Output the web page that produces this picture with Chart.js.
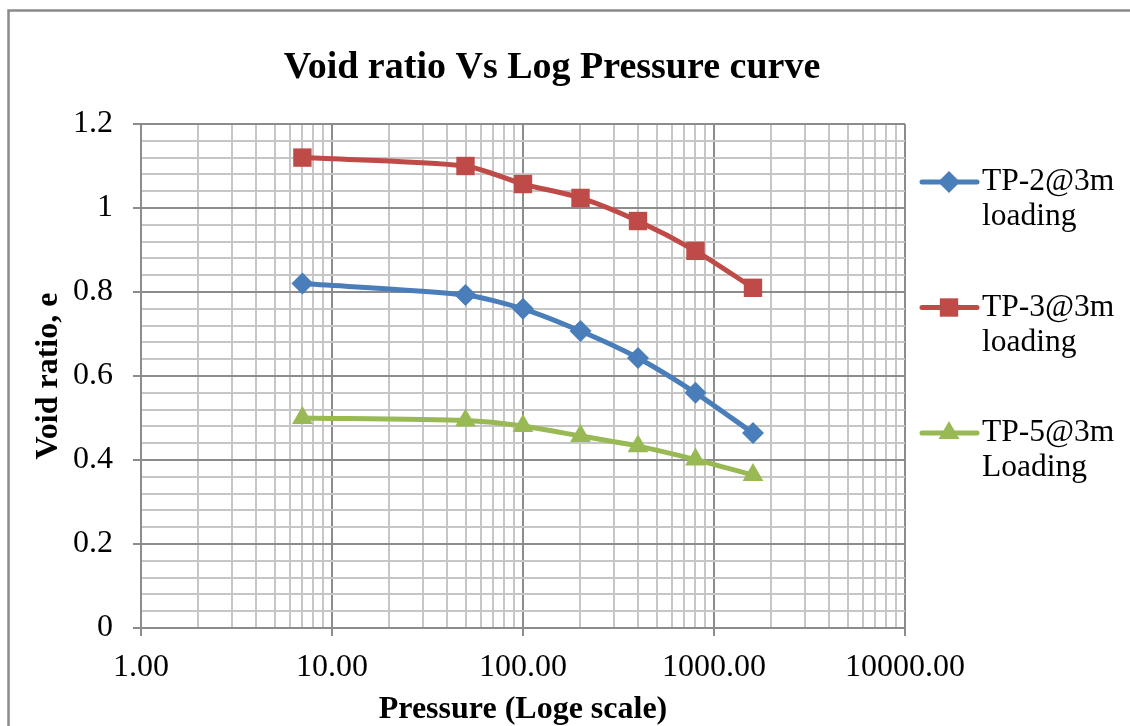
<!DOCTYPE html>
<html>
<head>
<meta charset="utf-8">
<title>Void ratio Vs Log Pressure curve</title>
<script src="https://cdn.jsdelivr.net/npm/chart.js@4.4.0/dist/chart.umd.min.js"></script>
<style>
  html, body { margin: 0; padding: 0; background: #fff; }
  #wrap { width: 1130px; height: 726px; position: relative; }
</style>
</head>
<body>
<div id="wrap"><canvas id="voidChart"></canvas></div>
<script>
// consolidation test results, void ratio against applied pressure
const pressure = [7, 50, 100, 200, 400, 800, 1600];
const tp2 = [0.82, 0.793, 0.76, 0.707, 0.643, 0.56, 0.464];
const tp3 = [1.12, 1.10, 1.057, 1.024, 0.969, 0.898, 0.81];
const tp5 = [0.50, 0.494, 0.481, 0.457, 0.433, 0.401, 0.364];

const seriesNames = [["TP-2@3m", "loading"], ["TP-3@3m", "loading"], ["TP-5@3m", "Loading"]];
const xDecades = [1, 10, 100, 1000, 10000];
const yMajor = [0, 0.2, 0.4, 0.6, 0.8, 1, 1.2];

const SERIF = "'Liberation Serif', 'Times New Roman', serif";
const MINOR = "#c6c6c6";
const MAJOR = "#8c8c8c";

function isDecade(v) {
    return xDecades.some(d => Math.abs(v - d) < 1e-9 * d);
}
function isYMajor(v) {
    return yMajor.some(m => Math.abs(v - m) < 1e-6);
}

function toPoints(ys) {
    return pressure.map((p, i) => ({ x: p, y: ys[i] }));
}

// frame, title and the two-line legend are drawn by hand
const frameAndLegend = {
    id: "frameAndLegend",
    beforeDraw(chart) {
        const ctx = chart.ctx;
        ctx.save();
        ctx.fillStyle = "#fff";
        ctx.fillRect(0, 0, chart.width, chart.height);
        ctx.strokeStyle = "#8a8a8a";
        ctx.lineWidth = 2.5;
        ctx.strokeRect(8.5, 10.5, chart.width + 20, chart.height + 20);
        ctx.restore();
    },
    afterDraw(chart) {
        const ctx = chart.ctx;
        const area = chart.chartArea;
        ctx.save();
        ctx.fillStyle = "#000";
        ctx.font = "bold 38px " + SERIF;
        ctx.textAlign = "center";
        ctx.textBaseline = "middle";
        ctx.fillText("Void ratio Vs Log Pressure curve", 552, 68);

        const x0 = area.right + 17;
        ctx.font = "31.5px " + SERIF;
        ctx.textAlign = "left";
        chart.data.datasets.forEach((ds, i) => {
            const y = area.top + 58 + i * 125.5;
            ctx.strokeStyle = ds.borderColor;
            ctx.lineWidth = 5;
            ctx.lineCap = "round";
            ctx.beginPath();
            ctx.moveTo(x0, y);
            ctx.lineTo(x0 + 55, y);
            ctx.stroke();
            ctx.fillStyle = ds.pointBackgroundColor;
            Chart.helpers.drawPoint(ctx, {
                pointStyle: ds.pointStyle,
                radius: ds.pointRadius,
                borderWidth: 0
            }, x0 + 27, y);
            ctx.fillStyle = "#000";
            seriesNames[i].forEach((line, j) => {
                ctx.fillText(line, x0 + 60, y + j * 35);
            });
        });
        ctx.restore();
    }
};

const canvas = document.querySelector("#voidChart");

new Chart(canvas, {
    type: "line",
    data: {
        datasets: [
            {
                label: seriesNames[0].join(" "),
                data: toPoints(tp2),
                borderColor: "#4a7ebb",
                backgroundColor: "#4a7ebb",
                pointBackgroundColor: "#4a7ebb",
                pointStyle: "rectRot",
                pointRadius: 11
            },
            {
                label: seriesNames[1].join(" "),
                data: toPoints(tp3),
                borderColor: "#be4b48",
                backgroundColor: "#be4b48",
                pointBackgroundColor: "#be4b48",
                pointStyle: "rect",
                pointRadius: 13
            },
            {
                label: seriesNames[2].join(" "),
                data: toPoints(tp5),
                borderColor: "#98b954",
                backgroundColor: "#98b954",
                pointBackgroundColor: "#98b954",
                pointStyle: "triangle",
                pointRadius: 12
            }
        ]
    },
    options: {
        responsive: true,
        maintainAspectRatio: false,
        animation: false,
        devicePixelRatio: 1,
        elements: {
            line: { borderWidth: 5, tension: 0.25, capBezierPoints: true },
            point: { borderWidth: 0, hoverRadius: 12 }
        },
        layout: { padding: { left: 10, right: 225, top: 124, bottom: 0 } },
        plugins: {
            legend: { display: false },
            title: { display: false },
            tooltip: { enabled: false }
        },
        scales: {
            x: {
                type: "logarithmic",
                min: 1,
                max: 10000,
                afterFit: scale => { scale.height = 98; },
                afterBuildTicks: scale => {
                    const ticks = [];
                    xDecades.forEach((d, i) => {
                        if (i === xDecades.length - 1) {
                            ticks.push({ value: d });
                        } else {
                            for (let k = 1; k <= 9; k++) ticks.push({ value: d * k });
                        }
                    });
                    scale.ticks = ticks;
                },
                ticks: {
                    autoSkip: false,
                    maxRotation: 0,
                    padding: 12,
                    color: "#000",
                    font: { family: SERIF, size: 32 },
                    callback: v => isDecade(v) ? v.toFixed(2) : ""
                },
                grid: {
                    lineWidth: 2,
                    tickLength: 8,
                    color: ctx => isDecade(ctx.tick.value) ? MAJOR : MINOR,
                    tickColor: ctx => isDecade(ctx.tick.value) ? MAJOR : "rgba(0,0,0,0)"
                },
                border: { color: MAJOR, width: 2 },
                title: {
                    display: true,
                    text: "Pressure (Loge scale)",
                    color: "#000",
                    padding: { top: 0, bottom: 0 },
                    font: { family: SERIF, size: 32, weight: "bold", lineHeight: 1.0 }
                }
            },
            y: {
                min: 0,
                max: 1.2,
                afterFit: scale => { scale.width = 131; },
                afterBuildTicks: scale => {
                    const ticks = [];
                    for (let i = 0; i < yMajor.length - 1; i++) {
                        for (let k = 0; k < 5; k++) {
                            ticks.push({ value: yMajor[i] + (yMajor[i + 1] - yMajor[i]) * k / 5 });
                        }
                    }
                    ticks.push({ value: yMajor[yMajor.length - 1] });
                    scale.ticks = ticks;
                },
                ticks: {
                    autoSkip: false,
                    padding: 20,
                    color: "#000",
                    font: { family: SERIF, size: 32 },
                    callback: v => isYMajor(v) ? String(Math.round(v * 10) / 10) : ""
                },
                grid: {
                    lineWidth: 2,
                    tickLength: 8,
                    color: ctx => isYMajor(ctx.tick.value) ? MAJOR : MINOR,
                    tickColor: ctx => isYMajor(ctx.tick.value) ? MAJOR : "rgba(0,0,0,0)"
                },
                border: { color: MAJOR, width: 2 },
                title: {
                    display: true,
                    text: "Void ratio, e",
                    color: "#000",
                    padding: { top: 20, bottom: 0 },
                    font: { family: SERIF, size: 32, weight: "bold", lineHeight: 1.2 }
                }
            }
        }
    },
    plugins: [frameAndLegend]
});
</script>
</body>
</html>
